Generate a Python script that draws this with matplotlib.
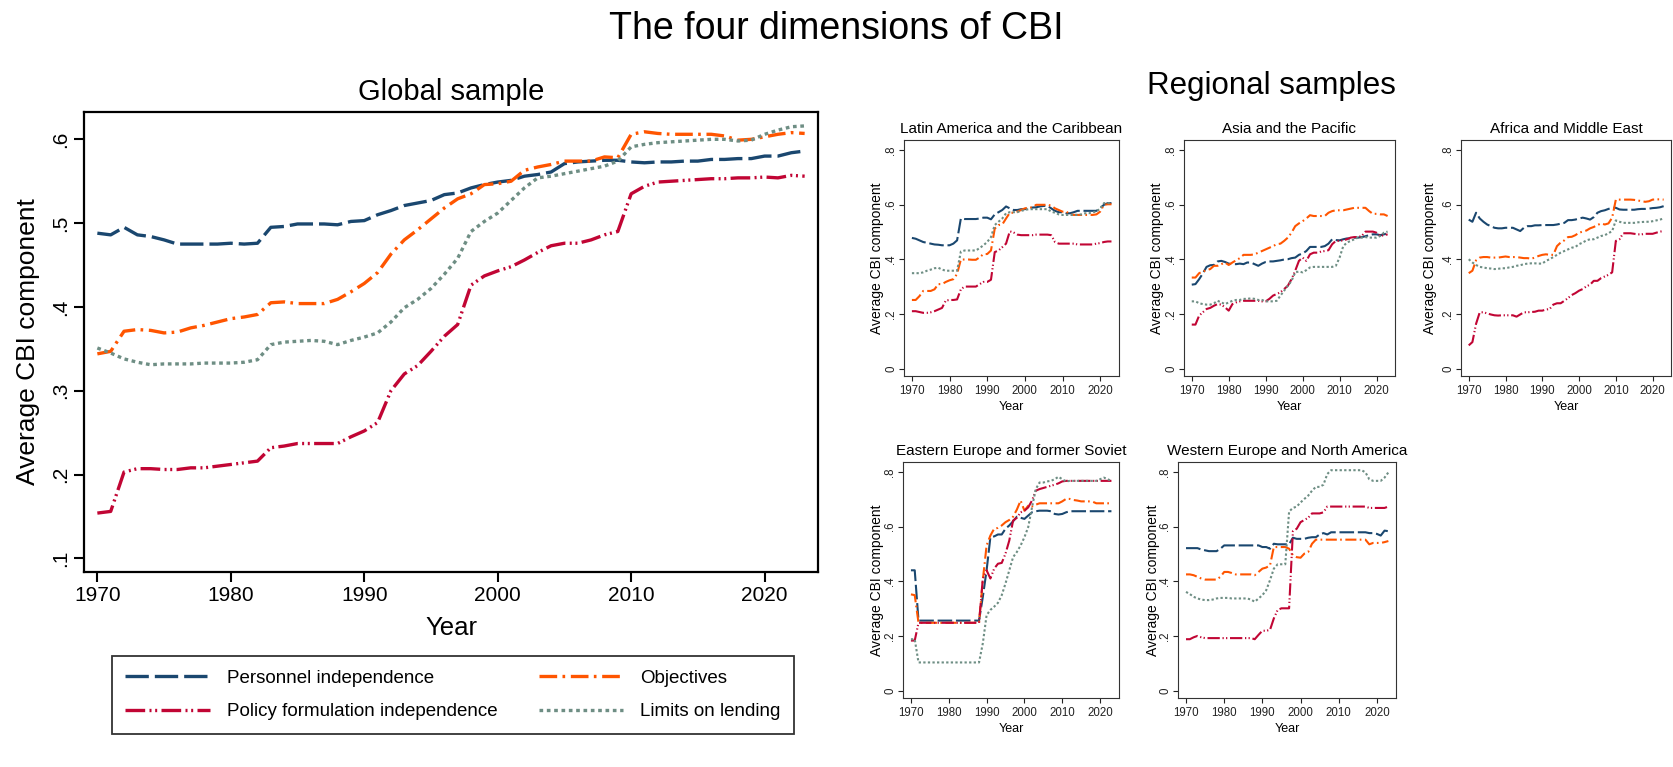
import matplotlib
matplotlib.use("Agg")
import matplotlib.pyplot as plt

plt.rcParams['font.family'] = ['Liberation Sans', 'DejaVu Sans']

# ---------------- data ----------------
years = list(range(1970, 2024))

series_labels = ["Personnel independence", "Objectives",
                 "Policy formulation independence", "Limits on lending"]

# Global sample
global_personnel = [.488, .486, .495, .486, .484, .480, .475, .475, .475, .475,
                    .476, .475, .476, .495, .496, .499, .499, .499, .498, .502,
                    .503, .510, .515, .521, .524, .527, .534, .536, .542, .546,
                    .549, .551, .556, .558, .561, .571, .573, .574, .575, .575,
                    .573, .572, .573, .573, .574, .574, .576, .576, .577, .577,
                    .580, .580, .584, .586]
global_objectives = [.344, .347, .371, .373, .372, .369, .370, .375, .378, .382,
                     .386, .388, .391, .405, .406, .404, .404, .404, .409, .418,
                     .428, .441, .463, .480, .492, .505, .518, .529, .535, .546,
                     .547, .550, .563, .567, .570, .574, .574, .574, .579, .578,
                     .606, .609, .607, .606, .606, .606, .606, .604, .599, .600,
                     .603, .606, .608, .607]
global_policy = [.154, .156, .203, .207, .207, .206, .206, .208, .208, .210,
                 .212, .214, .216, .232, .234, .237, .237, .237, .237, .245,
                 .252, .262, .300, .320, .330, .347, .365, .379, .426, .437,
                 .443, .448, .456, .465, .473, .476, .476, .480, .486, .490,
                 .535, .544, .549, .550, .551, .552, .553, .553, .554, .554,
                 .555, .554, .557, .556]
global_limits = [.351, .345, .338, .334, .331, .332, .332, .332, .333, .333,
                 .333, .334, .337, .355, .358, .359, .360, .359, .355, .360,
                 .364, .369, .382, .399, .409, .422, .439, .458, .490, .502,
                 .512, .527, .542, .554, .556, .559, .562, .565, .568, .574,
                 .591, .594, .596, .597, .598, .599, .600, .600, .598, .599,
                 .606, .611, .615, .616]

# Latin America and the Caribbean
latam_personnel = [.478, .475, .469, .463, .460, .457, .454, .453, .451, .451,
                   .451, .457, .469, .549, .547, .547, .547, .547, .549, .552,
                   .552, .546, .564, .572, .580, .593, .586, .580, .580, .583,
                   .583, .586, .589, .590, .593, .595, .595, .586, .577, .572,
                   .572, .568, .568, .572, .577, .577, .577, .577, .577, .577,
                   .586, .599, .605, .605]
latam_objectives = [.251, .251, .265, .284, .284, .284, .290, .309, .309, .317,
                    .323, .327, .346, .399, .399, .399, .398, .398, .407, .419,
                    .419, .432, .512, .525, .527, .549, .570, .570, .574, .580,
                    .586, .589, .589, .599, .599, .599, .599, .596, .586, .580,
                    .574, .574, .564, .562, .562, .562, .562, .562, .562, .564,
                    .574, .599, .601, .601]
latam_policy = [.210, .210, .207, .204, .204, .206, .210, .216, .222, .249,
                .251, .251, .253, .290, .300, .300, .300, .300, .309, .317,
                .317, .325, .426, .432, .444, .457, .502, .498, .490, .488,
                .488, .488, .488, .490, .490, .490, .490, .488, .463, .457,
                .457, .457, .457, .457, .454, .454, .454, .454, .454, .457,
                .459, .463, .465, .465]
latam_limits = [.349, .349, .349, .352, .358, .362, .367, .369, .362, .358,
                .358, .358, .358, .428, .432, .432, .432, .432, .441, .451,
                .463, .481, .525, .537, .549, .568, .572, .572, .572, .577,
                .580, .583, .583, .583, .583, .583, .583, .574, .570, .564,
                .562, .562, .562, .562, .562, .564, .568, .568, .572, .574,
                .586, .605, .605, .605]

# Asia and the Pacific
asia_personnel = [.307, .309, .327, .348, .372, .378, .379, .392, .394, .390,
                  .384, .382, .382, .384, .382, .388, .388, .382, .376, .384,
                  .390, .392, .392, .394, .396, .399, .400, .404, .406, .416,
                  .421, .430, .445, .445, .445, .445, .448, .457, .473, .470,
                  .469, .473, .476, .476, .479, .479, .481, .484, .488, .491,
                  .491, .488, .491, .495]
asia_objectives = [.333, .333, .349, .355, .360, .364, .376, .376, .382, .388,
                   .379, .388, .396, .404, .416, .416, .416, .418, .424, .430,
                   .436, .442, .448, .455, .457, .467, .479, .497, .521, .531,
                   .539, .549, .561, .558, .558, .558, .558, .570, .576, .579,
                   .579, .579, .582, .585, .588, .588, .588, .588, .576, .566,
                   .566, .564, .564, .558]
asia_policy = [.161, .161, .194, .206, .218, .222, .230, .236, .234, .224,
               .212, .236, .242, .246, .248, .248, .248, .248, .248, .246,
               .246, .255, .267, .273, .279, .291, .303, .327, .358, .394,
               .406, .394, .418, .424, .424, .428, .430, .433, .455, .467,
               .467, .469, .473, .479, .481, .481, .485, .501, .501, .501,
               .497, .485, .488, .491]
asia_limits = [.246, .246, .239, .236, .234, .234, .239, .248, .242, .236,
               .242, .248, .251, .251, .255, .255, .257, .255, .251, .251,
               .246, .246, .246, .248, .267, .285, .303, .321, .352, .355,
               .352, .360, .370, .372, .372, .372, .372, .372, .372, .376,
               .406, .448, .461, .467, .473, .479, .479, .481, .479, .479,
               .479, .485, .497, .501]

# Africa and Middle East
africa_personnel = [.545, .537, .570, .549, .537, .527, .521, .515, .513, .513,
                    .515, .515, .515, .509, .503, .515, .521, .521, .524, .524,
                    .525, .525, .525, .525, .527, .530, .533, .543, .543, .545,
                    .549, .552, .549, .545, .554, .570, .576, .579, .584, .588,
                    .588, .582, .581, .581, .581, .581, .583, .584, .584, .585,
                    .587, .588, .590, .594]
africa_objectives = [.349, .358, .396, .406, .408, .408, .406, .406, .406, .408,
                     .410, .408, .408, .408, .406, .404, .404, .402, .406, .412,
                     .416, .418, .416, .416, .448, .461, .469, .481, .482, .488,
                     .497, .501, .505, .513, .518, .525, .531, .527, .531, .552,
                     .618, .618, .618, .618, .618, .617, .615, .612, .610, .612,
                     .618, .619, .619, .618]
africa_policy = [.085, .097, .164, .206, .206, .202, .198, .195, .194, .195,
                 .195, .195, .195, .190, .198, .206, .206, .207, .208, .212,
                 .212, .216, .218, .234, .239, .239, .248, .258, .269, .276,
                 .285, .291, .301, .307, .321, .321, .331, .337, .343, .352,
                 .467, .473, .495, .495, .495, .493, .491, .491, .493, .493,
                 .493, .497, .501, .503]
africa_limits = [.400, .388, .379, .372, .370, .367, .366, .364, .365, .367,
                 .367, .370, .372, .376, .378, .382, .384, .385, .385, .384,
                 .384, .394, .400, .408, .416, .424, .430, .436, .442, .445,
                 .455, .461, .469, .473, .473, .479, .485, .488, .495, .503,
                 .542, .537, .533, .533, .533, .533, .535, .536, .537, .537,
                 .539, .542, .545, .549]

# Eastern Europe and former Soviet
eeurope_personnel = [.440, .440, .256, .256, .256, .256, .256, .256, .256, .256,
                     .256, .256, .256, .256, .256, .256, .256, .256, .256, .343,
                     .440, .561, .564, .571, .571, .592, .604, .619, .636, .632,
                     .628, .640, .652, .656, .658, .658, .658, .656, .646, .644,
                     .646, .652, .656, .656, .656, .656, .656, .656, .656, .656,
                     .656, .656, .656, .656]
eeurope_objectives = [.352, .349, .248, .248, .248, .248, .248, .248, .248, .248,
                      .248, .248, .248, .248, .248, .248, .248, .248, .248, .404,
                      .531, .567, .592, .595, .604, .616, .624, .636, .662, .695,
                      .658, .676, .673, .680, .685, .685, .685, .685, .685, .685,
                      .692, .701, .701, .697, .695, .692, .692, .692, .691, .685,
                      .685, .685, .685, .685]
eeurope_policy = [.183, .183, .248, .248, .248, .248, .248, .248, .248, .248,
                  .248, .248, .248, .248, .248, .248, .248, .248, .248, .410,
                  .440, .410, .446, .464, .467, .501, .549, .622, .632, .652,
                  .658, .670, .695, .731, .737, .741, .745, .749, .753, .758,
                  .765, .767, .767, .767, .767, .767, .767, .767, .767, .767,
                  .767, .767, .767, .767]
eeurope_limits = [.188, .188, .103, .103, .103, .103, .103, .103, .103, .103,
                  .103, .103, .103, .103, .103, .103, .103, .103, .103, .173,
                  .276, .295, .307, .321, .349, .392, .440, .488, .507, .531,
                  .561, .598, .670, .737, .761, .761, .765, .767, .773, .782,
                  .773, .765, .767, .767, .767, .767, .767, .767, .767, .767,
                  .773, .779, .773, .767]

# Western Europe and North America
weurope_personnel = [.521, .521, .521, .521, .516, .513, .510, .510, .510, .519,
                     .531, .531, .531, .531, .531, .531, .531, .531, .531, .531,
                     .525, .525, .519, .537, .535, .535, .535, .535, .559, .555,
                     .555, .555, .559, .561, .561, .571, .576, .571, .579, .579,
                     .579, .579, .579, .579, .579, .579, .579, .579, .576, .576,
                     .573, .567, .585, .583]
weurope_objectives = [.425, .425, .422, .416, .410, .406, .406, .406, .406, .416,
                      .434, .434, .430, .425, .425, .425, .425, .425, .422, .434,
                      .446, .450, .458, .525, .525, .525, .525, .519, .495, .488,
                      .486, .501, .507, .537, .552, .552, .552, .552, .552, .552,
                      .552, .552, .552, .552, .552, .552, .552, .552, .535, .540,
                      .540, .540, .543, .547]
weurope_policy = [.188, .188, .195, .200, .195, .192, .192, .192, .192, .192,
                  .192, .192, .192, .192, .192, .192, .192, .192, .188, .204,
                  .219, .219, .222, .264, .295, .301, .301, .301, .583, .592,
                  .616, .624, .632, .648, .648, .648, .652, .673, .673, .673,
                  .673, .673, .673, .673, .673, .673, .673, .673, .668, .668,
                  .668, .668, .668, .673]
weurope_limits = [.361, .353, .343, .337, .333, .331, .331, .333, .337, .339,
                  .339, .339, .337, .337, .337, .337, .337, .333, .325, .337,
                  .349, .367, .404, .446, .462, .462, .462, .655, .668, .673,
                  .688, .701, .713, .731, .745, .745, .753, .792, .806, .806,
                  .806, .806, .806, .806, .806, .806, .806, .798, .773, .767,
                  .767, .767, .779, .798]

region_titles = ["Latin America and the Caribbean", "Asia and the Pacific",
                 "Africa and Middle East", "Eastern Europe and former Soviet",
                 "Western Europe and North America"]
region_data = [
    [latam_personnel, latam_objectives, latam_policy, latam_limits],
    [asia_personnel, asia_objectives, asia_policy, asia_limits],
    [africa_personnel, africa_objectives, africa_policy, africa_limits],
    [eeurope_personnel, eeurope_objectives, eeurope_policy, eeurope_limits],
    [weurope_personnel, weurope_objectives, weurope_policy, weurope_limits],
]
global_data = [global_personnel, global_objectives, global_policy, global_limits]

global_yticks = [.1, .2, .3, .4, .5, .6]
global_yticklabels = [".1", ".2", ".3", ".4", ".5", ".6"]
region_yticks = [0, .2, .4, .6, .8]
region_yticklabels = ["0", ".2", ".4", ".6", ".8"]
xticks = [1970, 1980, 1990, 2000, 2010, 2020]

# ---------------- styles ----------------
colors = ["#1a476f", "#ff5500", "#c10534", "#6e8e84"]
dashes = [(7, 1.8), (5.3, 1.6, 0.8, 1.7), (5.9, 1.3, 0.6, 1.1, 0.6, 1.3), (1.1, 1.1)]

W, H = 1673, 767


def rect(l, t, r, b):
    return [l / W, 1 - b / H, (r - l) / W, (b - t) / H]


fig = plt.figure(figsize=(W / 100, H / 100), dpi=100)
fig.patch.set_facecolor("white")

fig.text(836 / W, 1 - 39 / H, "The four dimensions of CBI", ha="center",
         va="baseline", fontsize=27)
fig.text(451 / W, 1 - 100 / H, "Global sample", ha="center", va="baseline",
         fontsize=21)
fig.text(1271 / W, 1 - 94 / H, "Regional samples", ha="center", va="baseline",
         fontsize=22.5)

# ---------------- global panel ----------------
ax = fig.add_axes(rect(84, 112, 818, 572))
handles = []
for vals, c, d, lab in zip(global_data, colors, dashes, series_labels):
    ln, = ax.plot(years, vals, color=c, lw=2.4, dashes=d, label=lab)
    handles.append(ln)
ax.set_xlim(1969, 2024)
ax.set_ylim(0.0837, 0.6326)
ax.set_xticks(xticks)
ax.set_yticks(global_yticks)
ax.set_yticklabels(global_yticklabels, rotation=90, va="center")
ax.tick_params(axis="both", direction="out", length=7, width=1.5,
               labelsize=15, pad=3)
for sp in ax.spines.values():
    sp.set_linewidth(1.6)
    sp.set_color("black")
ax.set_ylabel("Average CBI component", fontsize=19)
ax.yaxis.set_label_coords(-(84 - 28) / 734, 0.5)
ax.set_xlabel("Year", fontsize=18.5)
ax.xaxis.set_label_coords(0.5, -(628 - 572) / 460)
ax.xaxis.label.set_va("center")
ax.yaxis.label.set_va("center")

leg_handles = [handles[0], handles[2], handles[1], handles[3]]
leg = fig.legend(leg_handles, [h.get_label() for h in leg_handles], ncol=2,
                 loc="upper left", bbox_to_anchor=(112 / W, 1 - 656 / H),
                 borderaxespad=0, fontsize=13.5, frameon=True, fancybox=False,
                 edgecolor="black", handlelength=4.5, handletextpad=0.9,
                 columnspacing=2.2, borderpad=0.72, labelspacing=0.88)
leg.get_frame().set_linewidth(1.3)

# ---------------- regional panels ----------------
panel_boxes = [(904, 140, 1119, 376), (1184, 140, 1395, 376),
               (1461, 140, 1671, 376), (903, 462, 1119, 698),
               (1178, 462, 1396, 698)]
ylabel_offsets = [27, 27, 31, 26, 25]

for box, title, data, yoff in zip(panel_boxes, region_titles, region_data,
                                  ylabel_offsets):
    l, t, r, b = box
    a = fig.add_axes(rect(l, t, r, b))
    for vals, c, d in zip(data, colors, dashes):
        a.plot(years, vals, color=c, lw=1.5, dashes=d)
    a.set_xlim(1967.9, 2025)
    a.set_ylim(-0.027, 0.836)
    a.set_xticks(xticks)
    a.set_yticks(region_yticks)
    a.set_yticklabels(region_yticklabels, rotation=90, va="center")
    a.tick_params(axis="both", direction="out", length=3.5, width=0.8,
                  labelsize=8.3, colors="#222222")
    a.tick_params(axis="x", pad=3)
    a.tick_params(axis="y", pad=1.5)
    for sp in a.spines.values():
        sp.set_linewidth(0.8)
        sp.set_color("#333333")
    a.set_title(title, fontsize=11, pad=5)
    a.set_ylabel("Average CBI component", fontsize=10)
    a.yaxis.set_label_coords(-yoff / (r - l), 0.5)
    a.yaxis.label.set_va("center")
    a.set_xlabel("Year", fontsize=9)
    a.xaxis.set_label_coords(0.5, -31 / (b - t))
    a.xaxis.label.set_va("center")

fig.savefig("out.png", dpi=100, facecolor="white")
